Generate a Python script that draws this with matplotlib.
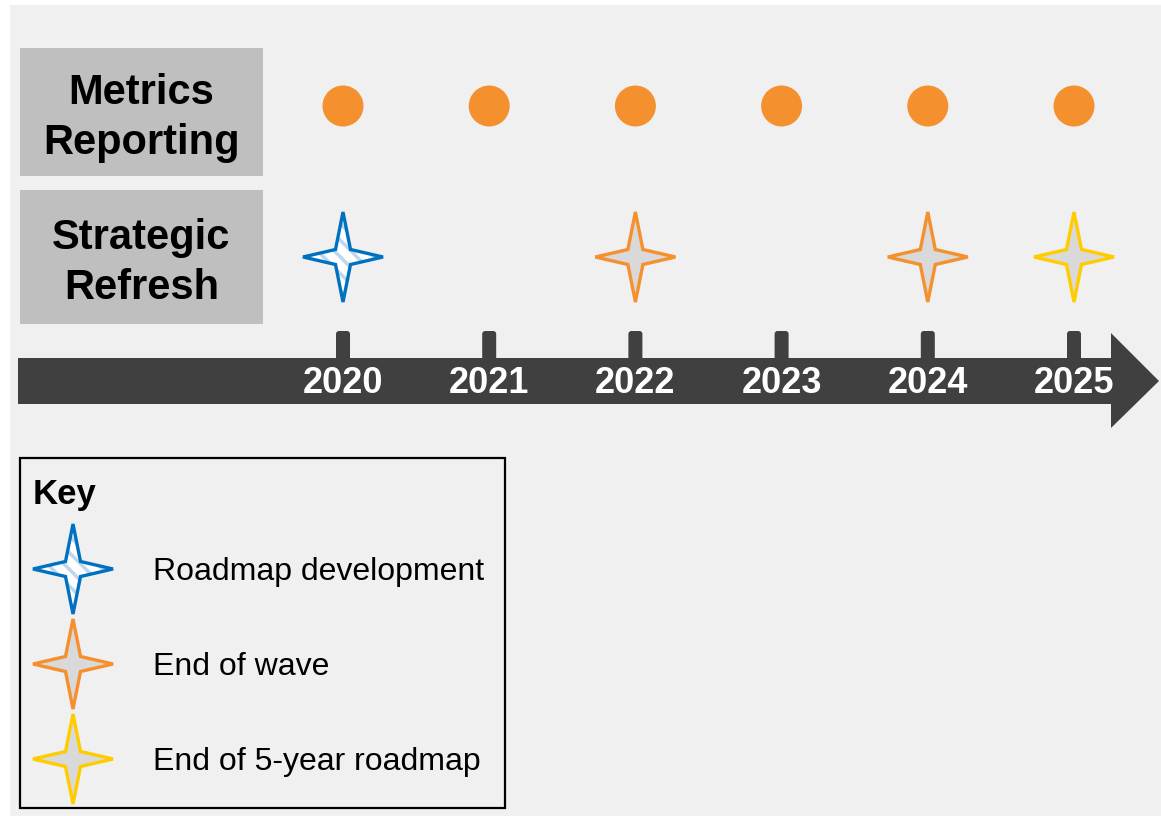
import matplotlib
matplotlib.use("Agg")
import matplotlib.pyplot as plt
import matplotlib.transforms as mtransforms
from matplotlib.patches import Rectangle, Polygon, PathPatch, FancyBboxPatch
from matplotlib.path import Path

plt.rcParams['font.family'] = ['Liberation Sans', 'DejaVu Sans']
plt.rcParams['hatch.linewidth'] = 2.5

# Data
years = [2020, 2021, 2022, 2023, 2024, 2025]
rows = ['Metrics\nReporting', 'Strategic\nRefresh']
metrics_years = [2020, 2021, 2022, 2023, 2024, 2025]
refresh_years = [2020, 2022, 2024, 2025]
refresh_kinds = ['Roadmap development', 'End of wave', 'End of wave', 'End of 5-year roadmap']
key_labels = ['Roadmap development', 'End of wave', 'End of 5-year roadmap']

# Styles
W, H, DPI = 1161, 816, 100
PX_PER_YEAR = 146.2
X_FIRST = 343          # pixel x of the first year
ROW_Y = [106, 257]     # pixel y of each row
PANEL = '#f0f0f0'
LABEL_BOX = '#bfbfbf'
DARK = '#404040'
ORANGE = '#f5902f'
kind_style = {
    'Roadmap development': dict(edge='#0070c0', face='white', hatch='\\\\', hatch_col='#bdd7ee'),
    'End of wave': dict(edge=ORANGE, face='#d9d9d9', hatch=None, hatch_col=None),
    'End of 5-year roadmap': dict(edge='#ffcc00', face='#d9d9d9', hatch=None, hatch_col=None),
}

fig = plt.figure(figsize=(W / DPI, H / DPI), dpi=DPI)
ax = fig.add_axes([0, 0, 1, 1])
ax.set_xlim(years[0] - X_FIRST / PX_PER_YEAR, years[0] + (W - X_FIRST) / PX_PER_YEAR)
ax.set_ylim(H, 0)
ax.set_axis_off()

# pixel transform, origin top-left, y down
pix = mtransforms.Affine2D().scale(1, -1).translate(0, H)
# x from data (years), y from pixels
xdata_ypix = mtransforms.blended_transform_factory(ax.transData, pix)


def anchored(x, y):
    # local pixel offsets (y down) around a data point
    return mtransforms.Affine2D().scale(1, -1) + mtransforms.ScaledTranslation(x, y, ax.transData)


def star_path():
    hw, hh, inner = 40, 45, 7.5
    verts = [(0, -hh), (inner, -inner), (hw, 0), (inner, inner), (0, hh),
             (-inner, inner), (-hw, 0), (-inner, -inner), (0, -hh)]
    codes = [Path.MOVETO] + [Path.LINETO] * 7 + [Path.CLOSEPOLY]
    return Path(verts, codes)


def draw_star(kind, transform):
    st = kind_style[kind]
    p = star_path()
    if st['hatch']:
        ax.add_patch(PathPatch(p, facecolor=st['face'], edgecolor=st['hatch_col'], hatch=st['hatch'],
                               linewidth=0, transform=transform, zorder=3))
    else:
        ax.add_patch(PathPatch(p, facecolor=st['face'], linewidth=0, transform=transform, zorder=3))
    ax.add_patch(PathPatch(p, facecolor='none', edgecolor=st['edge'], linewidth=2.4,
                           joinstyle='miter', transform=transform, zorder=4))


# background panel
ax.add_patch(Rectangle((10, 5), W - 10, H - 5, facecolor=PANEL, edgecolor='none', transform=pix, zorder=0))

# row label boxes
box_tops = [48, 190]
box_bottoms = [176, 324]
for label, top, bot in zip(rows, box_tops, box_bottoms):
    ax.add_patch(Rectangle((20, top), 243, bot - top, facecolor=LABEL_BOX, edgecolor='none',
                           transform=pix, zorder=1))
    ax.text(141.5, (top + bot) / 2 + 6, label, transform=pix, ha='center', va='center',
            fontsize=30, fontweight='bold', color='black', linespacing=1.32, zorder=2)

# metrics reporting dots
ax.scatter(metrics_years, [ROW_Y[0]] * len(metrics_years), s=41 ** 2 * 0.5184, color=ORANGE,
           edgecolors='none', zorder=3)

# strategic refresh stars
for yr, kind in zip(refresh_years, refresh_kinds):
    draw_star(kind, anchored(yr, ROW_Y[1]))

# timeline arrow
arrow = [(18, 358), (1111, 358), (1111, 333), (1159, 381), (1111, 428), (1111, 404), (18, 404)]
ax.add_patch(Polygon(arrow, closed=True, facecolor=DARK, edgecolor='none', transform=pix, zorder=2))

for yr in years:
    ax.add_patch(FancyBboxPatch((-7, -50), 14, 30, boxstyle='round,pad=0,rounding_size=3',
                                facecolor=DARK, edgecolor='none',
                                transform=anchored(yr, 381), zorder=2))
    ax.text(yr, 393, str(yr), transform=xdata_ypix, ha='center', va='baseline',
            fontsize=26, fontweight='bold', color='white', zorder=3)

# key
ax.add_patch(Rectangle((20, 458), 485, 350, facecolor='none', edgecolor='black', linewidth=1.6,
                       transform=pix, zorder=2))
ax.text(33, 504, 'Key', transform=pix, ha='left', va='baseline', fontsize=25,
        fontweight='bold', color='black')
key_y = [569, 664, 759]
for lbl, ky in zip(key_labels, key_y):
    t = mtransforms.Affine2D().translate(73, ky) + pix
    draw_star(lbl, t)
    ax.text(153, ky + 11, lbl, transform=pix, ha='left', va='baseline', fontsize=23, color='black')

fig.savefig('out.png', dpi=DPI, facecolor='white')
